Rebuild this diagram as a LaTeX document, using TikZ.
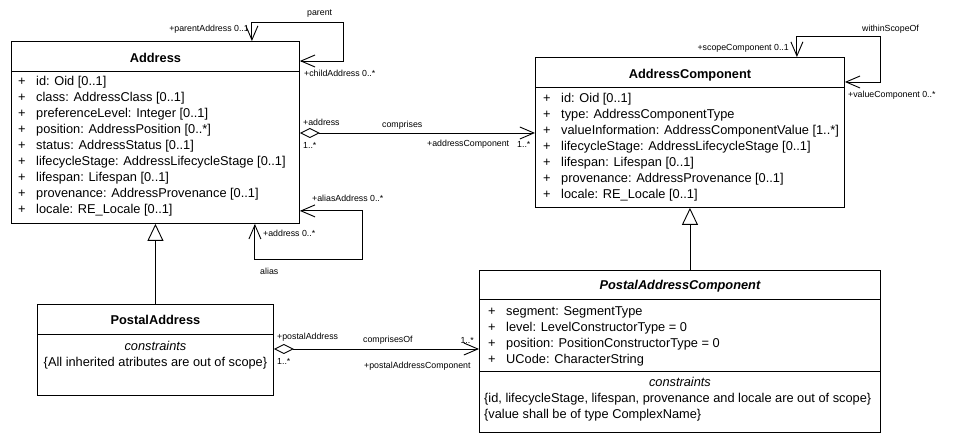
\documentclass[tikz,border=0pt]{standalone}
\usepackage{fontspec}
\setmainfont{Liberation Sans}
\usetikzlibrary{arrows.meta}
\newcommand{\attrplus}{\makebox[18pt][l]{+}}
\tikzset{
  barb/.tip={Straight Barb[length=14pt,width=12pt]},
  diam/.tip={Diamond[open,length=20pt,width=10pt]},
  gen/.tip={Triangle[open,length=17pt,width=16pt]},
  conn/.style={line width=0.9pt},
  classbox/.style={draw, line width=0.9pt, anchor=north west, inner sep=0pt},
  ctitle/.style={font=\fontsize{12.8}{16}\selectfont\bfseries, anchor=base, inner sep=0pt},
  attrs/.style={font=\fontsize{12.8}{16}\selectfont, align=left, anchor=base west, inner sep=0pt},
  lbl/.style={font=\fontsize{8.8}{10}\selectfont, inner sep=0pt}
}

\begin{document}
\begin{tikzpicture}[x=1pt, y=-1pt]
  \useasboundingbox (0,0) rectangle (959,443);
  \node[classbox, minimum width=288pt, minimum height=182pt](addr) at (11,41) {};
  \draw[conn]([yshift=-30]addr.north west)--([yshift=-30]addr.north east);
  \node[ctitle](addrT) at ([yshift=-22]addr.north) {Address};
  \node[attrs](addrA) at ([xshift=7,yshift=-173]addr.north west)
  {\attrplus id: Oid [0..1]\\ \attrplus class: AddressClass [0..1]\\
   \attrplus preferenceLevel: Integer [0..1]\\ \attrplus position: AddressPosition [0..*]\\
   \attrplus status: AddressStatus [0..1]\\ \attrplus lifecycleStage: AddressLifecycleStage [0..1]\\
   \attrplus lifespan: Lifespan [0..1]\\ \attrplus provenance: AddressProvenance [0..1]\\
   \attrplus locale: RE\_Locale [0..1]};

  \node[classbox, minimum width=309pt, minimum height=150pt](comp) at (535,57) {};
  \draw[conn]([yshift=-30]comp.north west)--([yshift=-30]comp.north east);
  \node[ctitle](compT) at ([yshift=-22]comp.north) {AddressComponent};
  \node[attrs](compA) at ([xshift=8,yshift=-142]comp.north west)
  {\attrplus id: Oid [0..1]\\ \attrplus type: AddressComponentType\\
   \attrplus valueInformation: AddressComponentValue [1..*]\\
   \attrplus lifecycleStage: AddressLifecycleStage [0..1]\\
   \attrplus lifespan: Lifespan [0..1]\\ \attrplus provenance: AddressProvenance [0..1]\\
   \attrplus locale: RE\_Locale [0..1]};

  \node[classbox, minimum width=236pt, minimum height=91pt](postal) at (37,304) {};
  \draw[conn]([yshift=-30]postal.north west)--([yshift=-30]postal.north east);
  \node[ctitle](postalT) at ([yshift=-21]postal.north) {PostalAddress};
  \node[attrs, anchor=base, font=\fontsize{12.8}{16}\selectfont\itshape](postalC)
  at ([yshift=-47]postal.north) {constraints};
  \node[attrs, anchor=base](postalK) at ([yshift=-63]postal.north)
  {\{All inherited atributes are out of scope\}};

  \node[classbox, minimum width=401pt, minimum height=162pt](pac) at (479,270) {};
  \draw[conn]([yshift=-29]pac.north west)--([yshift=-29]pac.north east);
  \draw[conn]([yshift=-101]pac.north west)--([yshift=-101]pac.north east);
  \node[ctitle, font=\fontsize{12.8}{16}\selectfont\bfseries\itshape](pacT)
  at ([yshift=-20]pac.north) {PostalAddressComponent};
  \node[attrs](pacA) at ([xshift=9,yshift=-94]pac.north west)
  {\attrplus segment: SegmentType\\ \attrplus level: LevelConstructorType = 0\\
   \attrplus position: PositionConstructorType = 0\\ \attrplus UCode: CharacterString};
  \node[attrs, anchor=base, font=\fontsize{12.8}{16}\selectfont\itshape](pacC)
  at ([yshift=-117]pac.north) {constraints};
  \node[attrs](pacK) at ([xshift=5,yshift=-149]pac.north west)
  {\{id, lifecycleStage, lifespan, provenance and locale are out of scope\}\\
   \{value shall be of type ComplexName\}};

  \draw[conn, barb-barb]([xshift=-48]addr.north east)--++(0,-19)
  -|([xshift=44,yshift=-20]addr.north east)--([yshift=-20]addr.north east);
  \draw[conn, diam-barb]([yshift=-92]addr.north east)--([yshift=-76]comp.north west);
  \draw[conn, barb-barb]([yshift=13]addr.south east)--++(63,0)
  |-([xshift=-45,yshift=-36]addr.south east)--([xshift=-45]addr.south east);
  \draw[conn, barb-barb]([xshift=-48]comp.north east)--++(0,-21)
  -|([xshift=36,yshift=-25]comp.north east)--([yshift=-25]comp.north east);
  \draw[conn, -gen](postal.north)--(postal.north |- addr.south);
  \draw[conn, -gen](comp.south |- pac.north)--(comp.south);
  \draw[conn, diam-barb]([yshift=-45]postal.north east)--([yshift=-79]pac.north west);

  \node[lbl, anchor=west](parentL) at (307,14) {parent};
  \node[lbl, anchor=east](parentR) at (249,29) {+parentAddress 0..1};
  \node[lbl, anchor=west](childR) at (304,73) {+childAddress 0..*};
  \node[lbl, anchor=west](addrR) at (303,122) {+address};
  \node[lbl, anchor=west](addrM) at (303,145) {1..*};
  \node[lbl, anchor=west](compL) at (382,125) {comprises};
  \node[lbl, anchor=west](compR) at (427,144) {+addressComponent};
  \node[lbl, anchor=west](compM) at (517,144) {1..*};
  \node[lbl, anchor=west](aliasR) at (312,198) {+aliasAddress 0..*};
  \node[lbl, anchor=west](aliasB) at (263,233) {+address 0..*};
  \node[lbl, anchor=west](aliasL) at (260,271) {alias};
  \node[lbl, anchor=west](scopeL) at (862,29) {withinScopeOf};
  \node[lbl, anchor=east](scopeR) at (789,48) {+scopeComponent 0..1};
  \node[lbl, anchor=west](valueR) at (848,95) {+valueComponent 0..*};
  \node[lbl, anchor=west](paR) at (277,337) {+postalAddress};
  \node[lbl, anchor=west](paM) at (277,361) {1..*};
  \node[lbl, anchor=west](pcL) at (363,340) {comprisesOf};
  \node[lbl, anchor=east](pcM) at (474,340) {1..*};
  \node[lbl, anchor=west](pcR) at (364,366) {+postalAddressComponent};
\end{tikzpicture}
\end{document}
